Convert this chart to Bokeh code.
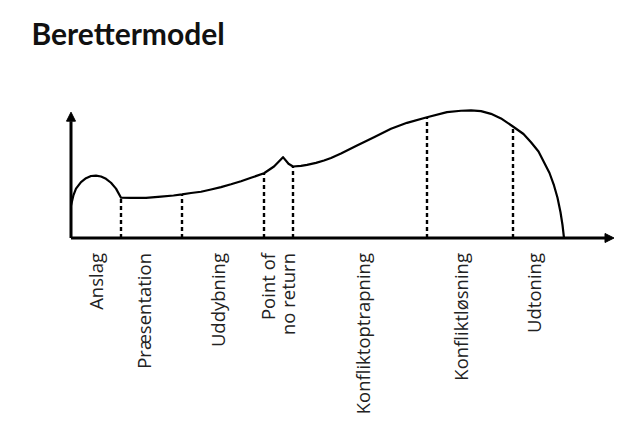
import numpy as np
from bokeh.plotting import figure
from bokeh.models import Range1d, Arrow, NormalHead
from bokeh.core.properties import value
from bokeh.embed import file_html
from bokeh.resources import INLINE

# ---- data (story time on x, tension on y) ----
curve_x = [0, 0.5, 1, 2, 3, 4, 5, 6, 7, 8, 9, 10,
           12, 15, 18, 20.5, 22.2, 24, 26, 28, 30, 32, 34, 36, 38.6, 40.6, 42.4,
           43.5, 44.4, 46, 47.2, 49, 50.6, 52, 54, 57.2, 60.6, 64, 67.2, 71.2,
           75.2, 78, 80, 82, 84, 86, 88.6, 90.5, 92, 93.5, 94.6, 95.7, 96.6, 97.3, 97.9, 98.3, 98.6]
curve_y = [25, 33, 38, 43, 46, 47.7, 48, 47.3, 45.5, 42.5, 38, 31,
           30.8, 30.9, 31.8, 32.7, 33.5, 34.6, 35.6, 37.3, 39.1, 41.3, 43.7, 46.3, 49.8, 55, 62.2,
           57.1, 55, 55.5, 56.3, 57.8, 59.6, 61.6, 65, 71.2, 77.5, 84, 88.6, 92.9,
           96.8, 97.9, 98.1, 97.6, 95.5, 92, 85.2, 80, 73.7, 66.5, 58.3, 50, 40.4, 31, 19.8, 10, 0]

bound_x = [10, 22.2, 38.6, 44.4, 71.2, 88.4]
bound_y = [31, 33.5, 49.8, 55, 92.9, 85.5]

stage_labels = ["Anslag", "Præsentation", "Uddybning", "Point of\nno return",
                "Konfliktoptrapning", "Konfliktløsning", "Udtoning"]
stage_x = [4.9, 14.5, 29.2, 41.3, 58.2, 77.9, 92.5]

axis_x_end = 108.6
axis_y_end = 96.8

title_text = "Berettermodel"

W, H = 615, 430
TOP = 55
x0 = -70.5 / 5.0
y_top = (237.5 - TOP) / 1.3
y_bot = -(H - 237.5) / 1.3

p = figure(width=W, height=H, output_backend="svg", toolbar_location=None,
           x_range=Range1d(x0, x0 + W / 5.0), y_range=Range1d(y_bot, y_top),
           min_border=0, min_border_top=TOP, outline_line_color=None, title=title_text)
p.axis.visible = False
p.grid.visible = False
p.title.text_font = "Lato"
p.title.text_font_size = "30px"
p.title.text_font_style = "bold"
p.title.text_color = "#111111"
p.title.offset = 31
p.title.standoff = 9

# dashed stage boundaries
p.segment(x0=bound_x, y0=[0] * len(bound_x), x1=bound_x, y1=bound_y,
          line_color="black", line_width=2.4, line_dash="4 3")

# tension curve
p.line(curve_x, curve_y, line_color="black", line_width=2.2, line_join="round")

# axes with arrowheads
p.add_layout(Arrow(end=NormalHead(size=9, fill_color="black", line_color="black"),
                   x_start=0, y_start=0, x_end=0, y_end=axis_y_end,
                   line_width=3, line_color="black"))
p.add_layout(Arrow(end=NormalHead(size=9, fill_color="black", line_color="black"),
                   x_start=0, y_start=0, x_end=axis_x_end, y_end=0,
                   line_width=3, line_color="black"))

# stage labels
p.text(x=stage_x, y=[0] * len(stage_x), text=stage_labels, angle=np.pi / 2,
       text_align="right", text_baseline="middle", y_offset=15,
       text_font=value("Open Sans"), text_font_size="18.5px", text_color="#222222",
       text_line_height=0.8)

open("out.html", "w").write(file_html(p, INLINE))
